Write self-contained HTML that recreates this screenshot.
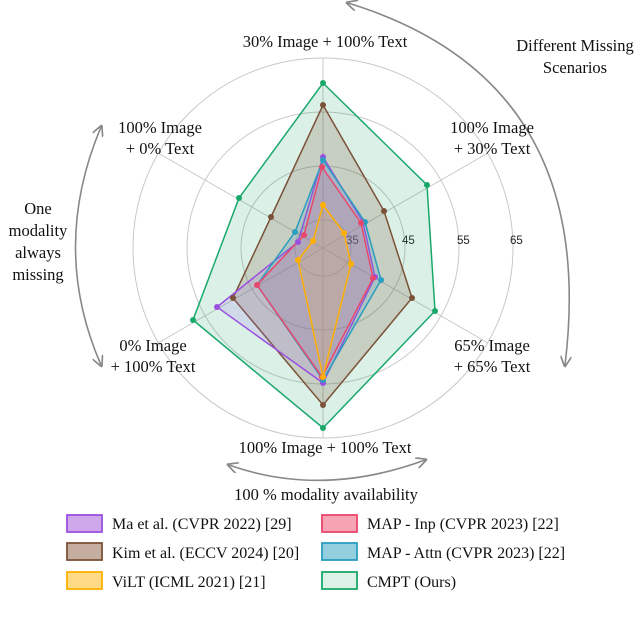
<!DOCTYPE html>
<html><head><meta charset="utf-8"><style>
html,body{margin:0;padding:0;background:#fff;}
svg{display:block;font-family:"Liberation Serif",serif;}
</style></head><body>
<svg width="640" height="624" viewBox="0 0 640 624" xmlns="http://www.w3.org/2000/svg">
<defs>
<marker id="ah" viewBox="0 0 10 10" refX="8" refY="5" markerWidth="7" markerHeight="7" orient="auto-start-reverse">
<path d="M0,0 L10,5 L0,10" fill="none" stroke="#888" stroke-width="1.5"/>
</marker>
</defs>
<g fill="none" stroke="#c8c8c8" stroke-width="1">
<circle cx="323" cy="248" r="190"/>
<circle cx="323" cy="248" r="136"/>
<circle cx="323" cy="248" r="82"/>
<circle cx="323" cy="248" r="28"/>
<line x1="323" y1="248" x2="323" y2="58"/>
<line x1="323" y1="248" x2="323" y2="438"/>
<line x1="323" y1="248" x2="488" y2="153"/>
<line x1="323" y1="248" x2="488" y2="343"/>
<line x1="323" y1="248" x2="158" y2="153"/>
<line x1="323" y1="248" x2="158" y2="343"/>
</g>
<g font-size="11.5" fill="#222" font-family="'Liberation Sans',sans-serif">
<text x="346" y="244">35</text><text x="402" y="244">45</text><text x="457" y="244">55</text><text x="510" y="244">65</text>
</g>
<!-- series -->
<polygon points="323,83 427,185 435,311 323,428 193,320 239,198" fill="rgba(30,170,110,0.16)" stroke="#1aa86a" stroke-width="1.5"/>
<polygon points="323,105 384,211 412,298 323,405 233,298 271,217" fill="rgba(125,85,60,0.22)" stroke="#7b5238" stroke-width="1.5"/>
<polygon points="323,157 363,222 375,277 323,383 217,307 298,242" fill="rgba(160,110,230,0.18)" stroke="#9b4fe0" stroke-width="1.5"/>
<polygon points="323,160 365,222 381,280 323,380 257,285 295,232" fill="rgba(60,150,190,0.18)" stroke="#2a9ec0" stroke-width="1.5"/>
<polygon points="322,167 361,223 373,278 322,377 257,285 304,235" fill="rgba(230,80,120,0.15)" stroke="#e8476d" stroke-width="1.5"/>
<polygon points="323,205 344,233 351,264 323,377 298,260 313,241" fill="rgba(255,190,60,0.15)" stroke="#ffb000" stroke-width="1.5"/>
<g fill="#1aa86a"><circle cx="323" cy="83" r="3"/><circle cx="427" cy="185" r="3"/><circle cx="435" cy="311" r="3"/><circle cx="323" cy="428" r="3"/><circle cx="193" cy="320" r="3"/><circle cx="239" cy="198" r="3"/></g>
<g fill="#7b5238"><circle cx="323" cy="105" r="3"/><circle cx="384" cy="211" r="3"/><circle cx="412" cy="298" r="3"/><circle cx="323" cy="405" r="3"/><circle cx="233" cy="298" r="3"/><circle cx="271" cy="217" r="3"/></g>
<g fill="#9b4fe0"><circle cx="323" cy="157" r="3"/><circle cx="363" cy="222" r="3"/><circle cx="375" cy="277" r="3"/><circle cx="323" cy="383" r="3"/><circle cx="217" cy="307" r="3"/><circle cx="298" cy="242" r="3"/></g>
<g fill="#2a9ec0"><circle cx="323" cy="160" r="3"/><circle cx="365" cy="222" r="3"/><circle cx="381" cy="280" r="3"/><circle cx="323" cy="380" r="3"/><circle cx="295" cy="232" r="3"/></g>
<g fill="#e8476d"><circle cx="322" cy="167" r="3"/><circle cx="361" cy="223" r="3"/><circle cx="373" cy="278" r="3"/><circle cx="322" cy="377" r="3"/><circle cx="257" cy="285" r="3"/><circle cx="304" cy="235" r="3"/></g>
<g fill="#ffb000"><circle cx="323" cy="205" r="3"/><circle cx="344" cy="233" r="3"/><circle cx="351" cy="264" r="3"/><circle cx="323" cy="377" r="3"/><circle cx="298" cy="260" r="3"/><circle cx="313" cy="241" r="3"/></g>
<!-- arrows -->
<g fill="none" stroke="#888" stroke-width="1.6">
<path d="M348,3 Q600,80 565,365" marker-start="url(#ah)" marker-end="url(#ah)"/>
<path d="M101,127 Q50,248 101,365" marker-start="url(#ah)" marker-end="url(#ah)"/>
<path d="M229,465 Q322,498 425,460" marker-start="url(#ah)" marker-end="url(#ah)"/>
</g>
<!-- labels -->
<g font-size="16.5" fill="#111" text-anchor="middle">
<text x="325" y="47">30% Image + 100% Text</text>
<text x="160" y="133">100% Image</text><text x="160" y="154">+ 0% Text</text>
<text x="492" y="133">100% Image</text><text x="492" y="154">+ 30% Text</text>
<text x="153" y="351">0% Image</text><text x="153" y="372">+ 100% Text</text>
<text x="492" y="351">65% Image</text><text x="492" y="372">+ 65% Text</text>
<text x="325" y="453">100% Image + 100% Text</text>
<text x="326" y="500">100 % modality availability</text>
<text x="38" y="214">One</text><text x="38" y="236">modality</text><text x="38" y="258">always</text><text x="38" y="280">missing</text>
<text x="575" y="51">Different Missing</text><text x="575" y="73">Scenarios</text>
</g>
<!-- legend -->
<g stroke-width="1.8">
<rect x="67" y="515" width="35" height="17" fill="#cfa8ec" stroke="#9b4fe0"/>
<rect x="67" y="543" width="35" height="17" fill="#c5ada0" stroke="#7b5238"/>
<rect x="67" y="572" width="35" height="17" fill="#ffdb88" stroke="#ffb000"/>
<rect x="322" y="515" width="35" height="17" fill="#f6a3b4" stroke="#e8476d"/>
<rect x="322" y="543" width="35" height="17" fill="#94cfe0" stroke="#2a9ec0"/>
<rect x="322" y="572" width="35" height="17" fill="#dcf2e6" stroke="#1aa86a"/>
</g>
<g font-size="16" fill="#111">
<text x="112" y="529">Ma et al. (CVPR 2022) [29]</text>
<text x="112" y="558">Kim et al. (ECCV 2024) [20]</text>
<text x="112" y="587">ViLT (ICML 2021) [21]</text>
<text x="367" y="529">MAP - Inp (CVPR 2023) [22]</text>
<text x="367" y="558">MAP - Attn (CVPR 2023) [22]</text>
<text x="367" y="587">CMPT (Ours)</text>
</g>
</svg>
</body></html>
